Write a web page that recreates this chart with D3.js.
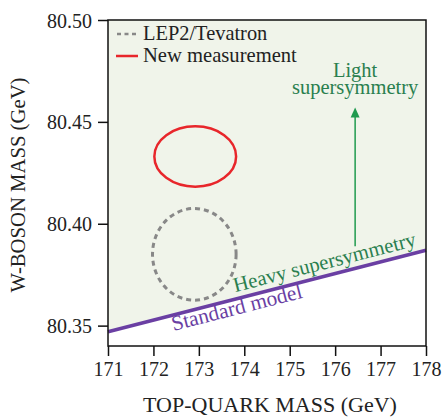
<!DOCTYPE html>
<html>
<head>
<meta charset="utf-8">
<script src="https://cdn.jsdelivr.net/npm/d3@7"></script>
<style>
  body { margin: 0; background: #fff; }
</style>
</head>
<body>
<div id="chart"></div>
<script>
// top-quark mass (GeV) axis
const xTicks = [171, 172, 173, 174, 175, 176, 177, 178];
// W-boson mass (GeV) axis
const yTicks = [80.35, 80.40, 80.45, 80.50];

// standard model band edge (mt, mW)
const smLine = [[171, 80.347], [178, 80.387]];

// ellipses: center + half widths
const lepTev = { mt: 172.9, mw: 80.385, dmt: 0.92, dmw: 0.0225 };
const newMeas = { mt: 172.92, mw: 80.433, dmt: 0.9, dmw: 0.0148 };

// arrow from heavy to light supersymmetry
const arrowPts = [[176.44, 80.389], [176.44, 80.457]];

const FONT = "Liberation Serif";
const width = 443, height = 420;
const margin = { top: 20, right: 17, bottom: 74, left: 108 };

const svg = d3.select("#chart").append("svg")
    .attr("width", width)
    .attr("height", height)
    .attr("font-family", FONT);

const x = d3.scaleLinear().domain([171, 178]).range([margin.left, width - margin.right]);
const y = d3.scaleLinear().domain([80.34, 80.50]).range([height - margin.bottom, margin.top]);

// shaded region above standard model line
const area = d3.area()
    .x(d => x(d[0]))
    .y0(y(80.50))
    .y1(d => y(d[1]));
svg.append("path")
    .datum(smLine)
    .attr("d", area)
    .attr("fill", "#f0f4ea");

// ellipses
svg.append("ellipse")
    .attr("cx", x(lepTev.mt))
    .attr("cy", y(lepTev.mw))
    .attr("rx", x(lepTev.mt + lepTev.dmt) - x(lepTev.mt))
    .attr("ry", y(lepTev.mw) - y(lepTev.mw + lepTev.dmw))
    .attr("fill", "none")
    .attr("stroke", "#888")
    .attr("stroke-width", 3)
    .attr("stroke-dasharray", "5,4");

svg.append("ellipse")
    .attr("cx", x(newMeas.mt))
    .attr("cy", y(newMeas.mw))
    .attr("rx", x(newMeas.mt + newMeas.dmt) - x(newMeas.mt))
    .attr("ry", y(newMeas.mw) - y(newMeas.mw + newMeas.dmw))
    .attr("fill", "none")
    .attr("stroke", "#e8262b")
    .attr("stroke-width", 2.5);

// standard model line
svg.append("path")
    .datum(smLine)
    .attr("d", d3.line().x(d => x(d[0])).y(d => y(d[1])))
    .attr("stroke", "#6a3fa3")
    .attr("stroke-width", 3.5)
    .attr("fill", "none");

// arrow
const green = "#1f9a4e";
const ax = x(arrowPts[1][0]), ayTip = y(arrowPts[1][1]);
svg.append("line")
    .attr("x1", x(arrowPts[0][0])).attr("y1", y(arrowPts[0][1]))
    .attr("x2", ax).attr("y2", ayTip + 9)
    .attr("stroke", green)
    .attr("stroke-width", 1.5);
svg.append("path")
    .attr("d", `M${ax - 4.5},${ayTip + 10} L${ax},${ayTip} L${ax + 4.5},${ayTip + 10} Z`)
    .attr("fill", green);

const textGreen = "#2a7f4f";
svg.append("text")
    .attr("x", x(176.44)).attr("y", 77)
    .attr("text-anchor", "middle")
    .attr("fill", textGreen)
    .attr("font-size", 20.5)
    .text("Light");
svg.append("text")
    .attr("x", x(176.44)).attr("y", 94)
    .attr("text-anchor", "middle")
    .attr("fill", textGreen)
    .attr("font-size", 20.5)
    .text("supersymmetry");

// rotated labels along the SM line
const angle = Math.atan2(y(smLine[1][1]) - y(smLine[0][1]), x(smLine[1][0]) - x(smLine[0][0])) * 180 / Math.PI;
const smAt = mt => smLine[0][1] + (mt - smLine[0][0]) * (smLine[1][1] - smLine[0][1]) / (smLine[1][0] - smLine[0][0]);

const hx = x(173.8), hy = y(smAt(173.8)) - 7;
svg.append("text")
    .attr("transform", `translate(${hx},${hy}) rotate(${angle})`)
    .attr("fill", textGreen)
    .attr("font-size", 20.8)
    .text("Heavy supersymmetry");

const sx = x(172.44), sy = y(smAt(172.44)) + 16;
svg.append("text")
    .attr("transform", `translate(${sx},${sy}) rotate(${angle})`)
    .attr("fill", "#6a3fa3")
    .attr("font-size", 21.3)
    .text("Standard model");

// frame
svg.append("rect")
    .attr("x", x(171)).attr("y", y(80.50))
    .attr("width", x(178) - x(171))
    .attr("height", y(80.34) - y(80.50))
    .attr("fill", "none")
    .attr("stroke", "#111")
    .attr("stroke-width", 1.5);

// axes
const xAxis = svg.append("g")
    .attr("transform", `translate(0,${y(80.34)})`)
    .call(d3.axisBottom(x).tickValues(xTicks).tickSize(10).tickPadding(6).tickFormat(d3.format("d")));
const yAxis = svg.append("g")
    .attr("transform", `translate(${x(171)},0)`)
    .call(d3.axisLeft(y).tickValues(yTicks).tickSize(10).tickPadding(6).tickFormat(d3.format(".2f")));
[xAxis, yAxis].forEach(g => {
    g.attr("font-family", FONT).attr("font-size", 20);
    g.select(".domain").remove();
    g.selectAll(".tick line").attr("stroke", "#111").attr("stroke-width", 1.5);
    g.selectAll(".tick text").attr("fill", "#222");
});
yAxis.selectAll(".tick text").attr("dy", "0.35em");

// axis titles
svg.append("text")
    .attr("x", 270).attr("y", 412)
    .attr("text-anchor", "middle")
    .attr("font-size", 22)
    .attr("fill", "#222")
    .text("TOP-QUARK MASS (GeV)");
svg.append("text")
    .attr("transform", `translate(25,185) rotate(-90)`)
    .attr("text-anchor", "middle")
    .attr("font-size", 20.7)
    .attr("fill", "#222")
    .text("W-BOSON MASS (GeV)");

// legend
svg.append("line")
    .attr("x1", 117).attr("x2", 138).attr("y1", 34).attr("y2", 34)
    .attr("stroke", "#888").attr("stroke-width", 2.5)
    .attr("stroke-dasharray", "4,3.5");
svg.append("text")
    .attr("x", 143).attr("y", 40)
    .attr("font-size", 20.4).attr("fill", "#222")
    .text("LEP2/Tevatron");
svg.append("line")
    .attr("x1", 116).attr("x2", 138).attr("y1", 56).attr("y2", 56)
    .attr("stroke", "#e8262b").attr("stroke-width", 2.5);
svg.append("text")
    .attr("x", 143).attr("y", 62)
    .attr("font-size", 20.6).attr("fill", "#222")
    .text("New measurement");
</script>
</body>
</html>
